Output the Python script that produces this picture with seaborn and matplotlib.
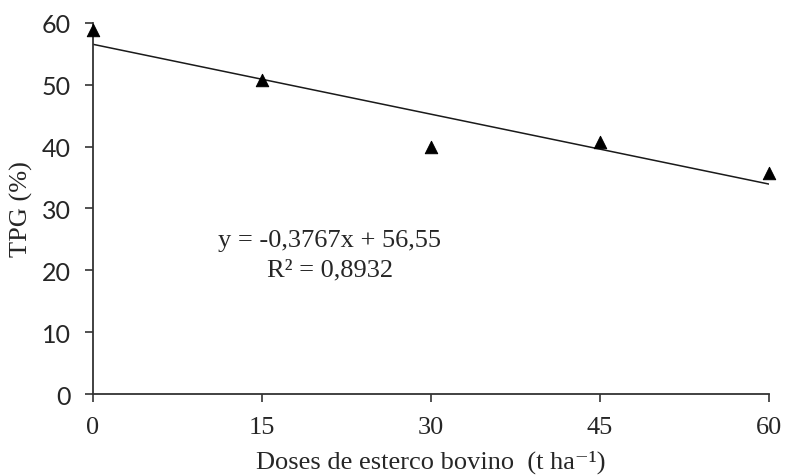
"""
TPG (%) x Doses de esterco bovino - dispersão com reta de regressão
"""

import numpy as np
import pandas as pd
import matplotlib.pyplot as plt
import seaborn as sns

# dados
doses = [0, 15, 30, 45, 60]
tpg = [58.9, 50.7, 40.0, 40.7, 35.8]

# regressão linear publicada
slope = -0.3767
intercept = 56.55
line_x = [0, 60]

x_ticks = [0, 15, 30, 45, 60]
y_ticks = [0, 10, 20, 30, 40, 50, 60]

sns.set_style('white')
plt.rcParams['font.family'] = ['Liberation Serif', 'DejaVu Serif']

df = pd.DataFrame({'dose': doses, 'tpg': tpg})
df_line = pd.DataFrame({'dose': line_x,
                        'tpg': [slope * x + intercept for x in line_x]})

fig = plt.figure(figsize=(7.87, 4.77), dpi=100)
ax = fig.add_axes([0.1182, 0.1719, 0.8589, 0.7778])

sns.lineplot(data=df_line, x='dose', y='tpg', color='#1a1a1a', linewidth=1.1, ax=ax)
sns.scatterplot(data=df, x='dose', y='tpg', marker='^', s=80, color='black',
                edgecolor='black', zorder=3, clip_on=False, ax=ax)

ax.set_xlim(0, 60)
ax.set_ylim(0, 60)
ax.set_xticks(x_ticks)
ax.set_yticks(y_ticks)
ax.tick_params(direction='out', length=6, width=1.2, color='#333333',
               bottom=True, left=True)
ax.tick_params(axis='x', labelsize=19, pad=10)
ax.tick_params(axis='y', labelsize=18, pad=10)
for lab in ax.get_yticklabels():
    lab.set_family(['Lato', 'DejaVu Sans'])
for side in ['top', 'right']:
    ax.spines[side].set_visible(False)
for side in ['left', 'bottom']:
    ax.spines[side].set_color('#333333')
    ax.spines[side].set_linewidth(1.3)

ax.set_xlabel('Doses de esterco bovino  (t ha⁻¹)', fontsize=19, labelpad=8)
ax.set_ylabel('TPG (%)', fontsize=19, labelpad=6)

ax.text(21.0, 22.5, 'y = -0,3767x + 56,55\nR² = 0,8932', fontsize=19,
        ha='center', va='center', linespacing=1.4)

plt.savefig('out.png', dpi=100)
